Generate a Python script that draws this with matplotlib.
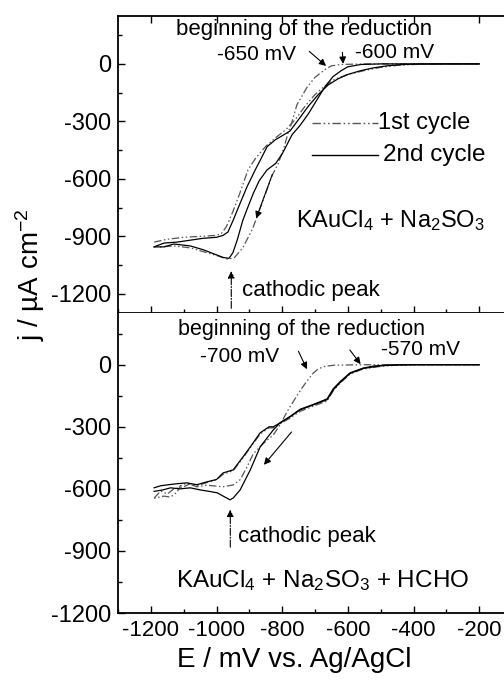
import matplotlib
matplotlib.use("Agg")
import matplotlib.pyplot as plt
from matplotlib.ticker import MultipleLocator

plt.rcParams['font.family'] = ['Liberation Sans', 'DejaVu Sans']
plt.rcParams['mathtext.fontset'] = 'custom'
plt.rcParams['mathtext.rm'] = 'Liberation Sans'
plt.rcParams['mathtext.it'] = 'Liberation Sans:italic'
plt.rcParams['axes.unicode_minus'] = False

# ---------------- data: top panel (KAuCl4 + Na2SO3) ----------------
top_c1_fwd_E = [-200, -400, -550, -620, -650, -670, -700, -725, -755, -770, -782, -795, -812, -830,
                -860, -890, -920, -945, -965, -990, -1030, -1080, -1130, -1170, -1190]
top_c1_fwd_j = [0, 0, 0, -3, -10, -30, -70, -124, -213, -302, -360, -440, -520, -580,
                -720, -860, -960, -1010, -1020, -1005, -985, -960, -950, -955, -950]
top_c1_rev_E = [-1190, -1150, -1100, -1050, -1000, -985, -970, -950, -930, -904, -880, -850, -820,
                -790, -760, -730, -700, -670, -640, -600, -550, -500, -450, -400, -300, -200]
top_c1_rev_j = [-930, -915, -905, -900, -895, -885, -850, -770, -680, -553, -490, -430, -385,
                -345, -290, -220, -160, -115, -80, -55, -35, -18, -8, -3, 0, 0]
top_c2_fwd_E = [-200, -400, -500, -560, -600, -620, -645, -670, -695, -720, -745, -770, -785, -800,
                -820, -846, -870, -888, -905, -920, -937, -950, -962, -980, -1010, -1040, -1080,
                -1130, -1160, -1190]
top_c2_fwd_j = [0, 0, 0, -3, -15, -35, -66, -120, -190, -260, -320, -370, -420, -470,
                -520, -553, -610, -676, -750, -817, -920, -985, -1015, -1010, -990, -970, -950,
                -940, -955, -955]
top_c2_rev_E = [-1190, -1160, -1120, -1080, -1040, -1000, -980, -965, -949, -928, -907, -882, -860,
                -846, -820, -800, -776, -750, -720, -690, -660, -630, -600, -560, -520, -480, -440,
                -400, -300, -200]
top_c2_rev_j = [-955, -935, -930, -920, -910, -905, -895, -877, -815, -727, -641, -553, -480,
                -432, -395, -375, -350, -290, -220, -160, -110, -78, -55, -35, -20, -10, -4,
                -1, 0, 0]

# ---------------- data: bottom panel (KAuCl4 + Na2SO3 + HCHO) ----------------
bot_c1_fwd_E = [-200, -400, -550, -640, -670, -690, -705, -725, -745, -765, -785, -806, -827, -860,
                -888, -907, -928, -949, -980, -1030, -1060, -1090, -1110, -1120, -1140, -1160,
                -1190]
bot_c1_fwd_j = [0, 0, 0, -2, -8, -20, -40, -80, -125, -175, -227, -290, -339, -385,
                -430, -494, -556, -581, -590, -582, -590, -572, -585, -615, -640, -635, -645]
bot_c1_rev_E = [-1190, -1170, -1150, -1130, -1100, -1080, -1060, -1030, -1000, -980, -949, -919,
                -897, -867, -840, -827, -806, -776, -745, -705, -663, -644, -623, -593, -553, -500,
                -450, -400, -200]
bot_c1_rev_j = [-645, -610, -625, -600, -590, -575, -585, -570, -555, -530, -512, -450,
                -400, -335, -305, -305, -285, -258, -225, -200, -175, -125, -88, -45, -20, -8,
                -2, 0, 0]
bot_c2_fwd_E = [-200, -400, -470, -520, -553, -593, -623, -644, -663, -705, -745, -776, -806, -827,
                -867, -897, -928, -949, -959, -998, -1030, -1050, -1080, -1111, -1140, -1163,
                -1190]
bot_c2_fwd_j = [0, 0, -1, -6, -16, -39, -81, -115, -165, -192, -215, -250, -280, -315,
                -397, -508, -605, -644, -653, -619, -610, -605, -595, -600, -595, -605, -612]
bot_c2_rev_E = [-1190, -1170, -1151, -1120, -1090, -1060, -1029, -1000, -980, -949, -919, -897,
                -867, -840, -827, -806, -776, -745, -705, -663, -644, -623, -593, -553, -500, -450,
                -400, -200]
bot_c2_rev_j = [-595, -585, -581, -575, -571, -580, -566, -555, -523, -508, -445, -397,
                -329, -300, -300, -281, -252, -218, -194, -169, -121, -85, -42, -18, -5, -1,
                0, 0]

x_ticks = [-1200, -1000, -800, -600, -400, -200]
y_ticks = [0, -300, -600, -900, -1200]

dashdd = (0, (6, 2, 1.2, 2, 1.2, 2))
gray = '#555555'

fig = plt.figure(figsize=(5.04, 6.87), dpi=100)
W, H = 504.0, 687.0
ax1 = fig.add_axes([118 / W, 1 - 313 / H, 394 / W, 297 / H])
ax2 = fig.add_axes([118 / W, 1 - 613 / H, 394 / W, 300 / H])

for ax in (ax1, ax2):
    ax.set_xlim(-1300, -100)
    ax.set_xticks(x_ticks)
    ax.xaxis.set_minor_locator(MultipleLocator(100))
    ax.set_yticks(y_ticks)
    ax.yaxis.set_minor_locator(MultipleLocator(150))
    for s in ax.spines.values():
        s.set_linewidth(1.3)
    ax.tick_params(axis='both', which='both', direction='in', width=1.0)
    ax.tick_params(axis='both', which='major', length=5)
    ax.tick_params(axis='both', which='minor', length=3)
    ax.tick_params(axis='y', labelsize=17, pad=5)
    ax.tick_params(axis='x', labelsize=16, pad=5)

ax1.set_ylim(-1300, 250)
ax2.set_ylim(-1200, 250)
ax1.tick_params(axis='x', top=True, bottom=True, labelbottom=False)
ax2.tick_params(axis='x', top=False, bottom=True)
ax2.spines['top'].set_visible(False)

# curves
ax1.plot(top_c1_fwd_E, top_c1_fwd_j, color=gray, lw=0.9, ls=dashdd)
ax1.plot(top_c1_rev_E, top_c1_rev_j, color=gray, lw=0.9, ls=dashdd)
ax1.plot(top_c2_fwd_E, top_c2_fwd_j, color='black', lw=0.9)
ax1.plot(top_c2_rev_E, top_c2_rev_j, color='black', lw=0.9)

ax2.plot(bot_c1_fwd_E, bot_c1_fwd_j, color=gray, lw=0.9, ls=dashdd)
ax2.plot(bot_c1_rev_E, bot_c1_rev_j, color=gray, lw=0.9, ls=dashdd)
ax2.plot(bot_c2_fwd_E, bot_c2_fwd_j, color='black', lw=0.9)
ax2.plot(bot_c2_rev_E, bot_c2_rev_j, color='black', lw=0.9)

# legend drawn inside top panel
ax1.plot([-708, -508], [-307, -307], color=gray, lw=1.0, ls=dashdd)
ax1.text(-507, -307, '1st cycle', fontsize=17, va='center', ha='left')
ax1.plot([-708, -508], [-475, -475], color='black', lw=1.0)
ax1.text(-492, -475, '2nd cycle', fontsize=17.5, va='center', ha='left')

# annotations top
ax1.text(-733, 180, 'beginning of the reduction', fontsize=16, ha='center', va='center')
ax1.text(-878, 49, '-650 mV', fontsize=15, ha='center', va='center')
ax1.text(-457, 59, '-600 mV', fontsize=15, ha='center', va='center')
arrow_kw = dict(arrowstyle='-|>', color='black', lw=0.8, mutation_scale=10)
ax1.annotate('', xy=(-660, -20), xytext=(-724, 75), arrowprops=arrow_kw)
ax1.annotate('', xy=(-614, -14), xytext=(-617, 75), arrowprops=arrow_kw)
ax1.annotate('', xy=(-882, -820), xytext=(-827, -563), arrowprops=arrow_kw)
ax1.annotate('', xy=(-955, -1067), xytext=(-955, -1290),
             arrowprops=dict(arrowstyle='-|>', color='black', lw=0.8, ls='-.', mutation_scale=10))
ax1.text(-922, -1182, 'cathodic peak', fontsize=16, ha='left', va='center')
ax1.text(-757, -815, r'KAuCl$_{\mathrm{4}}$ + Na$_{\mathrm{2}}$SO$_{\mathrm{3}}$', fontsize=17,
         ha='left', va='center')

# annotations bottom
ax2.text(-742, 172, 'beginning of the reduction', fontsize=15.5, ha='center', va='center')
ax2.text(-930, 39, '-700 mV', fontsize=15, ha='center', va='center')
ax2.text(-378, 72, '-570 mV', fontsize=15, ha='center', va='center')
ax2.annotate('', xy=(-721, -34), xytext=(-754, 77), arrowprops=arrow_kw)
ax2.annotate('', xy=(-556, -8), xytext=(-599, 82), arrowprops=arrow_kw)
ax2.annotate('', xy=(-861, -494), xytext=(-766, -315), arrowprops=arrow_kw)
ax2.annotate('', xy=(-958, -687), xytext=(-958, -895),
             arrowprops=dict(arrowstyle='-|>', color='black', lw=0.8, ls='-.', mutation_scale=10))
ax2.text(-934, -832, 'cathodic peak', fontsize=16, ha='left', va='center')
ax2.text(-676, -1045, r'KAuCl$_{\mathrm{4}}$ + Na$_{\mathrm{2}}$SO$_{\mathrm{3}}$ + HCHO', fontsize=17.5,
         ha='center', va='center')

fig.text(30 / W, 1 - 275 / H, r'j / µA cm$^{\mathrm{-2}}$', rotation=90, fontsize=20,
         ha='center', va='center')
fig.text(294 / W, 1 - 660 / H, 'E / mV vs. Ag/AgCl', fontsize=20, ha='center', va='center')

fig.savefig('out.png', dpi=100)
